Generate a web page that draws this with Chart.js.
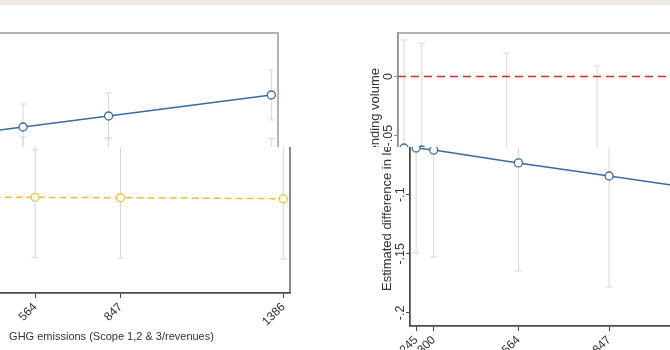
<!DOCTYPE html>
<html>
<head>
<meta charset="utf-8">
<script src="https://cdn.jsdelivr.net/npm/chart.js@4.4.1/dist/chart.umd.min.js"></script>
<style>
  html, body { margin: 0; padding: 0; background: #fff; }
  #page { position: relative; width: 670px; height: 350px; overflow: hidden; background: #fff; }
  #strip { position: absolute; left: 0; top: 0; width: 670px; height: 5px; background: #eeeae3; }
  .clip { position: absolute; overflow: hidden; }
  .clip canvas { position: absolute; }
</style>
</head>
<body>
<div id="page">
  <div id="strip"></div>
  <!-- the picture is a collage: upper pieces sit 12px left of the lower pieces -->
  <div class="clip" style="left:0;top:5px;width:300px;height:142px">
    <canvas id="ghgTop" width="440" height="350" style="left:-152px;top:-5px"></canvas>
  </div>
  <div class="clip" style="left:0;top:147px;width:300px;height:203px">
    <canvas id="ghgBottom" width="440" height="350" style="left:-140px;top:-147px"></canvas>
  </div>
  <div class="clip" style="left:340px;top:5px;width:330px;height:142px">
    <canvas id="lendTop" width="420" height="420" style="left:24px;top:-5px"></canvas>
  </div>
  <div class="clip" style="left:340px;top:147px;width:330px;height:203px">
    <canvas id="lendBottom" width="420" height="420" style="left:36px;top:-147px"></canvas>
  </div>
</div>

<script>
// shared x axis (GHG emissions levels)
const emissionLevels = [245, 300, 564, 847, 1386];
const emissionTicks = [245, 300, 564, 847, 1386];
const emissionTickLabels = ['245', '300', '564', '847', '1386'];
const xRange = [226, 1408];
const xTitle = 'GHG emissions (Scope 1,2 & 3/revenues)';

// left panel: two series with confidence bands
const leftBlue = [-0.0524, -0.0503, -0.0404, -0.0298, -0.0096];
const leftBlueHigh = [-0.0264, -0.0253, -0.0183, -0.0077, 0.0144];
const leftBlueLow = [-0.0784, -0.0753, -0.0625, -0.0519, -0.0336];
const leftYellow = [-0.1075, -0.1076, -0.1080, -0.1084, -0.1093];
const leftYellowHigh = [-0.0495, -0.0496, -0.0500, -0.0504, -0.0513];
const leftYellowLow = [-0.1655, -0.1656, -0.1660, -0.1664, -0.1673];
const leftYRange = [-0.2, 0.05];

// right panel: lending volume
const rightBlue = [-0.0605, -0.0622, -0.0731, -0.0842, -0.1054];
const rightBlueHigh = [0.0309, 0.0283, 0.0199, 0.0089, -0.0050];
const rightBlueLow = [-0.1493, -0.1527, -0.1646, -0.1781, -0.2058];
const rightRefLine = [0, 0];
const rightYTicks = [0, -0.05, -0.1, -0.15, -0.2];
const rightYTickLabels = ['0', '-.05', '-.1', '-.15', '-.2'];
const rightYRange = [-0.2111, 0.0368];
const rightYTitle = 'Estimated difference in lending volume';

Chart.defaults.font.family = '"Liberation Sans", Arial, sans-serif';
Chart.defaults.color = '#333';

const BLUE = '#3a6aa3';
const YELLOW = '#f0c030';
const WHISKER = '#d8d8d8';

const framePlugin = {
    id: 'frame',
    afterDatasetsDraw(chart, args, opts) {
        const a = chart.chartArea;
        const ctx = chart.ctx;
        ctx.save();
        ctx.strokeStyle = opts.color;
        ctx.lineWidth = opts.width;
        ctx.strokeRect(a.left, a.top, a.right - a.left, a.bottom - a.top);
        ctx.restore();
    }
};

// Stata style y labels, turned 90 degrees
const verticalTicks = {
    id: 'verticalTicks',
    afterDraw(chart, args, opts) {
        if (!opts.show) return;
        const s = chart.scales.y;
        const ctx = chart.ctx;
        ctx.save();
        ctx.fillStyle = '#333';
        ctx.font = '12.5px "Liberation Sans", Arial, sans-serif';
        ctx.textAlign = 'center';
        ctx.textBaseline = 'middle';
        s.ticks.forEach(t => {
            ctx.save();
            ctx.translate(s.right - opts.offset, s.getPixelForValue(t.value));
            ctx.rotate(-Math.PI / 2);
            ctx.fillText(t.label, 0, 0);
            ctx.restore();
        });
        ctx.restore();
    }
};

function seriesLine(values, color, dashed) {
    return {
        data: emissionLevels.map((x, i) => ({ x: x, y: values[i] })),
        borderColor: color,
        borderWidth: 1.5,
        borderDash: dashed ? [7, 4] : [],
        pointStyle: 'circle',
        pointRadius: 4,
        pointBorderWidth: 1.3,
        pointBorderColor: color,
        pointBackgroundColor: '#fff',
        tension: 0
    };
}

function whiskers(low, high) {
    return emissionLevels.map((x, i) => ({
        data: [{ x: x, y: low[i] }, { x: x, y: high[i] }],
        borderColor: WHISKER,
        borderWidth: 1,
        pointStyle: 'line',
        pointRadius: 3.5,
        pointBorderWidth: 1,
        pointBorderColor: WHISKER
    }));
}

function makeChart(id, cfg) {
    const ctx = document.getElementById(id).getContext('2d');
    return new Chart(ctx, {
        type: 'line',
        data: { datasets: cfg.datasets },
        plugins: [framePlugin, verticalTicks],
        options: {
            responsive: false,
            animation: false,
            devicePixelRatio: 1,
            layout: { padding: cfg.padding },
            plugins: {
                legend: { display: false },
                tooltip: { enabled: false },
                frame: { color: cfg.frameColor, width: 1.3 },
                verticalTicks: { show: !!cfg.yTicks, offset: 9 }
            },
            scales: {
                x: {
                    type: 'linear',
                    min: xRange[0],
                    max: xRange[1],
                    afterBuildTicks: s => { s.ticks = emissionTicks.map(v => ({ value: v })); },
                    afterFit: s => { s.height = cfg.xHeight; },
                    ticks: {
                        autoSkip: false,
                        minRotation: 45,
                        maxRotation: 45,
                        padding: 2,
                        font: { size: 12 },
                        callback: (v, i) => emissionTickLabels[i]
                    },
                    grid: { display: true, drawOnChartArea: false, tickLength: 5, color: cfg.frameColor },
                    border: { display: true, color: cfg.frameColor, width: 1.3 },
                    title: { display: true, text: xTitle, font: { size: 11 }, color: '#333' }
                },
                y: {
                    type: 'linear',
                    min: cfg.yRange[0],
                    max: cfg.yRange[1],
                    afterBuildTicks: s => { if (cfg.yTicks) s.ticks = cfg.yTicks.map(v => ({ value: v })); },
                    afterFit: s => { s.width = cfg.yWidth; },
                    ticks: {
                        display: false,
                        callback: (v, i) => cfg.yTicks ? cfg.yTickLabels[i] : ''
                    },
                    grid: { display: !!cfg.yTicks, drawOnChartArea: false, tickLength: 4, color: cfg.frameColor },
                    border: { display: !!cfg.yTicks, color: cfg.frameColor, width: 1.3 },
                    title: { display: !!cfg.yTitle, text: cfg.yTitle || '', font: { size: 13 }, color: '#333' }
                }
            }
        }
    });
}

function ghgDatasets() {
    return [
        seriesLine(leftBlue, BLUE, false),
        seriesLine(leftYellow, YELLOW, true)
    ].concat(whiskers(leftBlueLow, leftBlueHigh), whiskers(leftYellowLow, leftYellowHigh));
}

function lendDatasets() {
    const ref = {
        data: [{ x: xRange[0], y: rightRefLine[0] }, { x: xRange[1], y: rightRefLine[1] }],
        borderColor: '#e3262b',
        borderWidth: 1.5,
        borderDash: [8, 5],
        pointRadius: 0
    };
    return [seriesLine(rightBlue, BLUE, false), ref].concat(whiskers(rightBlueLow, rightBlueHigh));
}

const ghgCfg = color => ({
    datasets: ghgDatasets(),
    padding: { top: 33, right: 10, bottom: 2, left: 0 },
    xHeight: 55,
    yWidth: 73,
    yRange: leftYRange,
    frameColor: color
});

const lendCfg = color => ({
    datasets: lendDatasets(),
    padding: { top: 33, right: 7, bottom: 14, left: 0 },
    xHeight: 80,
    yWidth: 34,
    yRange: rightYRange,
    yTicks: rightYTicks,
    yTickLabels: rightYTickLabels,
    yTitle: rightYTitle,
    frameColor: color
});

makeChart('ghgTop', ghgCfg('#8c8c8c'));
makeChart('ghgBottom', ghgCfg('#4a4a4a'));
makeChart('lendTop', lendCfg('#8c8c8c'));
makeChart('lendBottom', lendCfg('#4a4a4a'));
</script>
</body>
</html>
